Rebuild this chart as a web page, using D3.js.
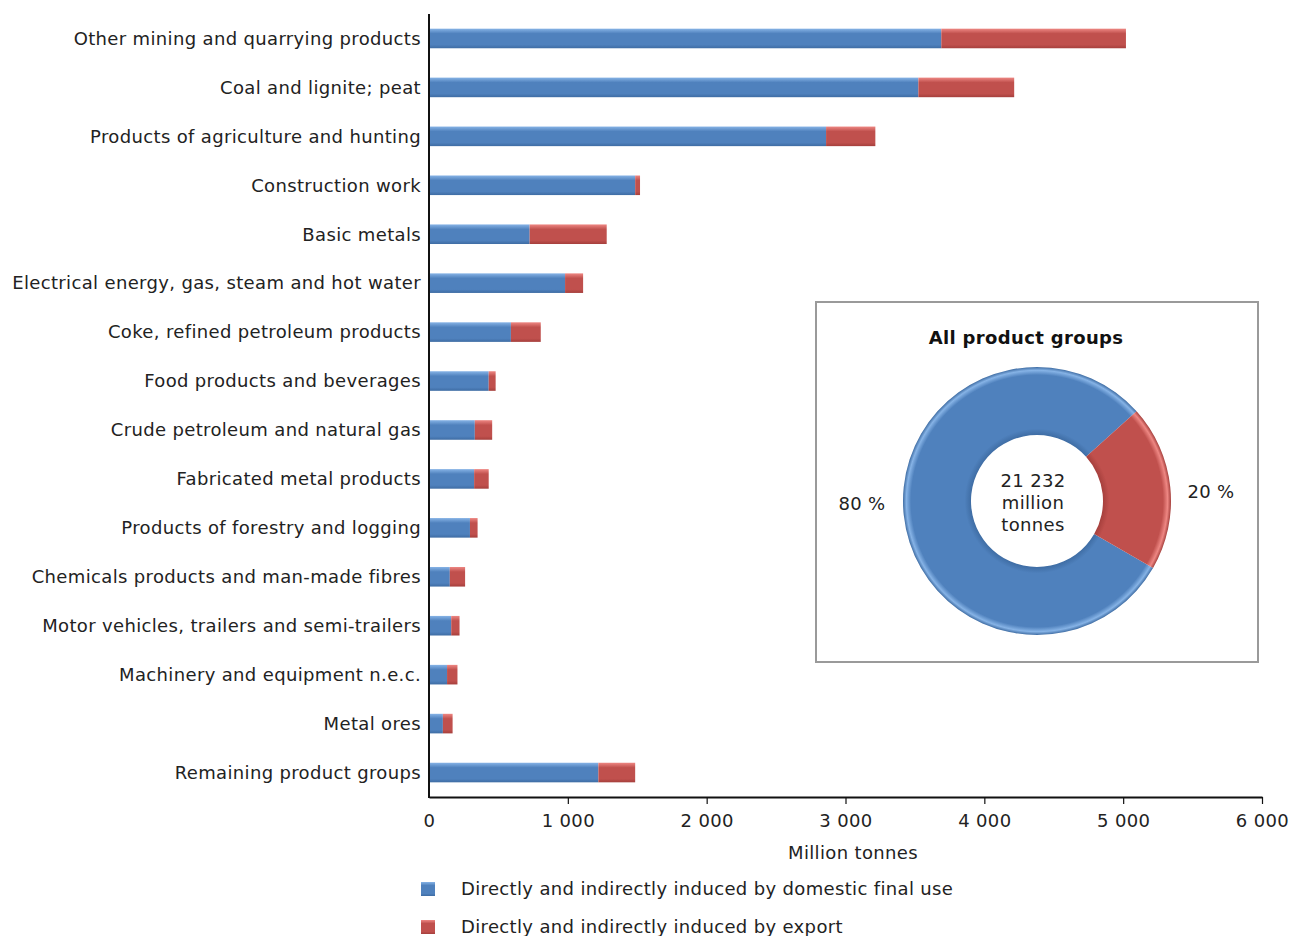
<!DOCTYPE html>
<html>
<head>
<meta charset="utf-8">
<script src="https://cdn.jsdelivr.net/npm/d3@7"></script>
<style>
  html, body { margin: 0; padding: 0; background: #fff; }
  svg { display: block; font-family: "DejaVu Sans", Verdana, sans-serif; }
  svg text { letter-spacing: 0.35px; }
</style>
</head>
<body>
<svg id="chart" width="1298" height="936"></svg>
<script>
// Product groups, top to bottom
const categories = [
  "Other mining and quarrying products",
  "Coal and lignite; peat",
  "Products of agriculture and hunting",
  "Construction work",
  "Basic metals",
  "Electrical energy, gas, steam and hot water",
  "Coke, refined petroleum products",
  "Food products and beverages",
  "Crude petroleum and natural gas",
  "Fabricated metal products",
  "Products of forestry and logging",
  "Chemicals products and man-made fibres",
  "Motor vehicles, trailers and semi-trailers",
  "Machinery and equipment n.e.c.",
  "Metal ores",
  "Remaining product groups"
];
// Million tonnes induced by domestic final use
const domestic = [3690, 3525, 2860, 1485, 725, 980, 590, 430, 330, 325, 295, 150, 160, 130, 100, 1220];
// Million tonnes induced by export
const exportVals = [1330, 690, 355, 35, 555, 130, 215, 50, 125, 105, 55, 110, 60, 75, 70, 265];

const xTicks = [0, 1000, 2000, 3000, 4000, 5000, 6000];
const seriesNames = [
  "Directly and indirectly induced by domestic final use",
  "Directly and indirectly induced by export"
];
// Summary donut
const donutShares = [80, 20];
const donutLabels = ["80 %", "20 %"];
const donutTotal = ["21 232", "million", "tonnes"];
const donutTitle = "All product groups";

const colors = {
  blue:  { base: "#4f81bd", light: "#86b3e6", dark: "#3e6ca3" },
  red:   { base: "#c0504d", light: "#ee8783", dark: "#a53f3c" }
};
const FS = 18;

const svg = d3.select("#chart");
const defs = svg.append("defs");

function barGradient(id, c) {
  const g = defs.append("linearGradient").attr("id", id)
    .attr("x1", 0).attr("y1", 0).attr("x2", 0).attr("y2", 1);
  g.append("stop").attr("offset", "0%").attr("stop-color", c.light);
  g.append("stop").attr("offset", "25%").attr("stop-color", c.base);
  g.append("stop").attr("offset", "82%").attr("stop-color", c.base);
  g.append("stop").attr("offset", "100%").attr("stop-color", c.dark);
}
barGradient("gBlue", colors.blue);
barGradient("gRed", colors.red);

function ringGradient(id, c) {
  const g = defs.append("radialGradient").attr("id", id)
    .attr("gradientUnits", "userSpaceOnUse")
    .attr("cx", 0).attr("cy", 0).attr("r", 134);
  g.append("stop").attr("offset", "49%").attr("stop-color", c.dark);
  g.append("stop").attr("offset", "54%").attr("stop-color", c.base);
  g.append("stop").attr("offset", "94%").attr("stop-color", c.base);
  g.append("stop").attr("offset", "97.5%").attr("stop-color", c.light);
  g.append("stop").attr("offset", "100%").attr("stop-color", c.dark);
}
ringGradient("rBlue", colors.blue);
ringGradient("rRed", colors.red);

const margin = { left: 429, right: 36, top: 14, bottom: 139 };
const W = 1298, H = 936;
const x = d3.scaleLinear().domain([0, 6000]).range([margin.left, W - margin.right]);
const y = d3.scaleBand().domain(categories).range([margin.top, H - margin.bottom]).paddingInner(0.6).paddingOuter(0.3);

const fmt = d3.formatLocale({ decimal: ".", thousands: " ", grouping: [3], currency: ["", ""] }).format(",d");

// Stacked bars
const rows = categories.map((c, i) => ({ cat: c, dom: domestic[i], exp: exportVals[i] }));
const stack = d3.stack().keys(["dom", "exp"])(rows);
const fills = ["url(#gBlue)", "url(#gRed)"];

stack.forEach((layer, li) => {
  svg.append("g").selectAll("rect").data(layer).join("rect")
    .attr("x", d => x(d[0]))
    .attr("y", d => y(d.data.cat))
    .attr("width", d => x(d[1]) - x(d[0]))
    .attr("height", y.bandwidth())
    .attr("fill", fills[li]);
});

// Category labels
svg.append("g").selectAll("text").data(categories).join("text")
  .attr("x", margin.left - 8)
  .attr("y", d => y(d) + y.bandwidth() / 2)
  .attr("dy", "0.35em")
  .attr("text-anchor", "end")
  .attr("font-size", FS)
  .attr("fill", "#222")
  .text(d => d);

// Axes
const axisY = H - margin.bottom;
svg.append("line").attr("x1", margin.left).attr("x2", margin.left)
  .attr("y1", margin.top).attr("y2", axisY + 1)
  .attr("stroke", "#111").attr("stroke-width", 2);

const xAxis = svg.append("g").attr("transform", `translate(0,${axisY})`)
  .call(d3.axisBottom(x).tickValues(xTicks).tickFormat(fmt).tickSize(7).tickPadding(10).tickSizeOuter(0));
xAxis.select(".domain").attr("stroke", "#111").attr("stroke-width", 2);
xAxis.selectAll(".tick line").attr("stroke", "#111").attr("stroke-width", 1.2);
xAxis.selectAll(".tick text").attr("font-size", FS).attr("fill", "#222")
  .attr("font-family", "DejaVu Sans, Verdana, sans-serif");
xAxis.selectAll(".tick").filter(d => d === 0).select("line").remove();

svg.append("text").attr("x", 853).attr("y", 859)
  .attr("text-anchor", "middle").attr("font-size", FS).attr("fill", "#222")
  .text("Million tonnes");

// Legend
const legend = svg.append("g");
seriesNames.forEach((name, i) => {
  const ly = 889 + i * 38;
  legend.append("rect").attr("x", 421).attr("y", ly - 7).attr("width", 14).attr("height", 14)
    .attr("fill", fills[i]);
  legend.append("text").attr("x", 461).attr("y", ly).attr("dy", "0.35em")
    .attr("font-size", FS).attr("fill", "#222").text(name);
});

// Inset donut panel
const box = { x: 816, y: 302, w: 442, h: 360 };
svg.append("rect").attr("x", box.x).attr("y", box.y).attr("width", box.w).attr("height", box.h)
  .attr("fill", "#fff").attr("stroke", "#9a9a9a").attr("stroke-width", 2);
svg.append("text").attr("x", 1026).attr("y", 344).attr("text-anchor", "middle")
  .attr("font-size", FS).attr("font-weight", "bold").attr("fill", "#111").text(donutTitle);

const cx = 1037, cy = 501, rOut = 134, rIn = 66;
const start = 120 * Math.PI / 180;
const pie = d3.pie().sort(null).startAngle(start).endAngle(start + 2 * Math.PI);
const arc = d3.arc().innerRadius(rIn).outerRadius(rOut);
const dg = svg.append("g").attr("transform", `translate(${cx},${cy})`);
dg.selectAll("path").data(pie(donutShares)).join("path")
  .attr("d", arc)
  .attr("fill", (d, i) => i === 0 ? "url(#rBlue)" : "url(#rRed)");

// Percent labels
const labelPos = [[862, 504], [1211, 492]];
donutLabels.forEach((t, i) => {
  svg.append("text").attr("x", labelPos[i][0]).attr("y", labelPos[i][1]).attr("dy", "0.35em")
    .attr("text-anchor", "middle").attr("font-size", FS).attr("fill", "#222").text(t);
});
donutTotal.forEach((t, i) => {
  svg.append("text").attr("x", 1033).attr("y", 481 + i * 22).attr("dy", "0.35em")
    .attr("text-anchor", "middle").attr("font-size", FS).attr("fill", "#222").text(t);
});
</script>
</body>
</html>
